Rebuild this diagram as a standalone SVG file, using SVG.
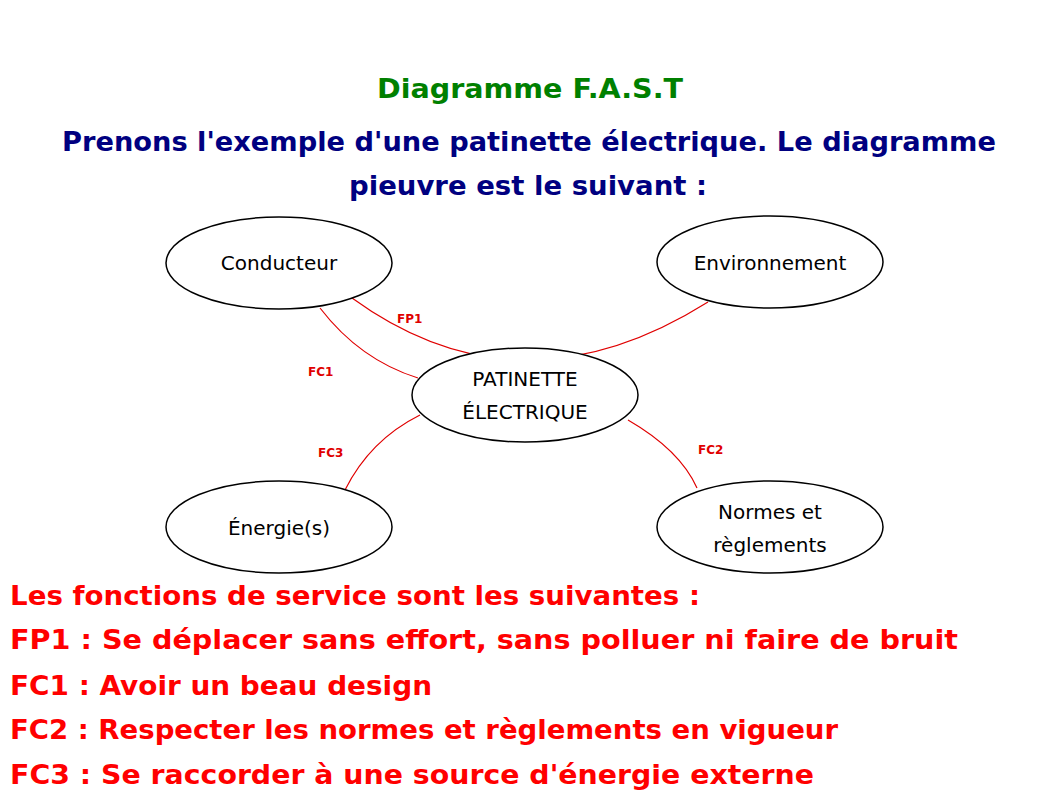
<svg xmlns="http://www.w3.org/2000/svg" width="1058" height="793" viewBox="0 0 1058 793">
<style>
.n{fill:#fff;stroke:#000;stroke-width:1.5}
.nt{font-family:"DejaVu Sans",sans-serif;font-size:20px;fill:#000;text-anchor:middle}
.c{fill:none;stroke:#e00000;stroke-width:1.2}
.cl{font-family:"DejaVu Sans",sans-serif;font-weight:bold;font-size:12px;fill:#e00000}
.h{font-family:"DejaVu Sans",sans-serif;font-weight:bold;font-size:26px;text-anchor:middle}
.r{font-family:"DejaVu Sans",sans-serif;font-weight:bold;font-size:26px;fill:#ff0000}
</style>
<rect width="1058" height="793" fill="#fff"/>
<text class="h" x="530" y="98" fill="#008000" textLength="306" lengthAdjust="spacingAndGlyphs">Diagramme F.A.S.T</text>
<text class="h" x="529" y="151" fill="#000080" textLength="934" lengthAdjust="spacingAndGlyphs">Prenons l'exemple d'une patinette électrique. Le diagramme</text>
<text class="h" x="528" y="195" fill="#000080" textLength="358" lengthAdjust="spacingAndGlyphs">pieuvre est le suivant :</text>
<g id="connectors">
<path class="c" d="M352,298 Q520,420 708,302"/>
<path class="c" d="M320,308 Q360,360 418,378"/>
<path class="c" d="M345,490 Q370,440 420,415"/>
<path class="c" d="M628,420 Q680,450 697,488"/>
<text class="cl" x="397" y="323">FP1</text>
<text class="cl" x="308" y="376">FC1</text>
<text class="cl" x="318" y="457">FC3</text>
<text class="cl" x="698" y="454">FC2</text>
</g>
<g id="conducteur"><ellipse class="n" cx="279" cy="263" rx="113" ry="46"/><text class="nt" x="279" y="270">Conducteur</text></g>
<g id="environnement"><ellipse class="n" cx="770" cy="262" rx="113" ry="46"/><text class="nt" x="770" y="270">Environnement</text></g>
<g id="patinette"><ellipse class="n" cx="525" cy="395" rx="113" ry="47"/><text class="nt" x="525" y="386">PATINETTE</text><text class="nt" x="525" y="419">ÉLECTRIQUE</text></g>
<g id="energie"><ellipse class="n" cx="279" cy="527" rx="113" ry="46"/><text class="nt" x="279" y="535">Énergie(s)</text></g>
<g id="normes"><ellipse class="n" cx="770" cy="527" rx="113" ry="46"/><text class="nt" x="770" y="519">Normes et</text><text class="nt" x="770" y="552">règlements</text></g>
<text class="r" x="10" y="605" textLength="690" lengthAdjust="spacingAndGlyphs">Les fonctions de service sont les suivantes :</text>
<text class="r" x="10" y="649" textLength="948" lengthAdjust="spacingAndGlyphs">FP1 : Se déplacer sans effort, sans polluer ni faire de bruit</text>
<text class="r" x="10" y="695" textLength="422" lengthAdjust="spacingAndGlyphs">FC1 : Avoir un beau design</text>
<text class="r" x="10" y="739" textLength="828" lengthAdjust="spacingAndGlyphs">FC2 : Respecter les normes et règlements en vigueur</text>
<text class="r" x="10" y="784" textLength="804" lengthAdjust="spacingAndGlyphs">FC3 : Se raccorder à une source d'énergie externe</text>
</svg>
